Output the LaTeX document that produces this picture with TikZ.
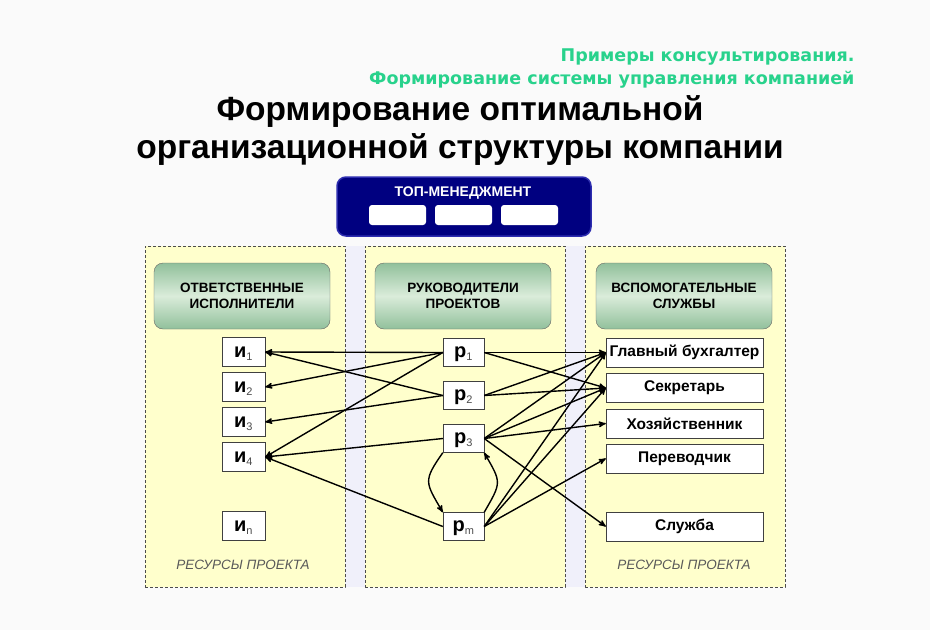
\documentclass[tikz,border=0pt]{standalone}
\usepackage{fontspec}
\setmainfont{Liberation Sans}
\newfontfamily\widefont{DejaVu Sans}
\usetikzlibrary{shapes,arrows,positioning,calc,fit}
\definecolor{navy}{RGB}{0,0,128}
\definecolor{navyrim}{RGB}{45,45,175}
\definecolor{mint}{RGB}{40,210,140}
\definecolor{paleyellow}{RGB}{255,255,204}
\definecolor{lavender}{RGB}{240,240,250}
\definecolor{headgreen}{RGB}{145,192,155}
\definecolor{headlight}{RGB}{218,236,218}
\tikzstyle{column} = [rectangle, draw=black!70, dash pattern=on 3pt off 2pt, fill=paleyellow, minimum width=200pt, minimum height=341pt, inner sep=0]
\tikzstyle{header} = [rectangle, draw=black!60, rounded corners=9pt, top color=headgreen, bottom color=headgreen, middle color=headlight, minimum width=176pt, minimum height=66pt, align=center, font=\fontsize{13.5}{16}\selectfont\bfseries]
\tikzstyle{worker} = [rectangle, draw=black!75, fill=white, minimum width=43pt, minimum height=29pt, inner sep=0, text height=11pt, text depth=0pt, font=\fontsize{20}{20}\selectfont\bfseries]
\tikzstyle{lead} = [rectangle, draw=black!75, fill=white, minimum width=41pt, minimum height=28pt, inner sep=0, text height=10pt, text depth=0pt, font=\fontsize{20}{20}\selectfont\bfseries]
\tikzstyle{service} = [rectangle, draw=black!75, fill=white, minimum width=157pt, minimum height=29pt, inner sep=0, font=\fontsize{15.5}{15.5}\selectfont\bfseries]
\tikzstyle{slot} = [rectangle, fill=white, rounded corners=3pt, minimum width=57pt, minimum height=20pt, inner sep=0]
\tikzstyle{resources} = [font=\fontsize{13.5}{13.5}\selectfont\itshape, text=black!65]
\tikzstyle{line} = [draw, line width=1.4pt, -stealth']
\newcommand{\lowidx}[1]{\textsubscript{\mdseries\fontsize{11}{11}\selectfont\color{black!70}#1}}

\begin{document}
\begin{tikzpicture}[x=1pt,y=1pt]
	\useasboundingbox (0,0) rectangle (930,-630);
	\fill[gray!4] (0,0) rectangle (930,-630);
	%Headings
	\node [anchor=base east, text=mint, font=\widefont\fontsize{17.5}{17.5}\selectfont\bfseries] (sub1) at (858,-61) {Примеры консультирования.};
	\node [anchor=base east, text=mint, font=\widefont\fontsize{17.5}{17.5}\selectfont\bfseries] (sub2) at (858,-84) {Формирование системы управления компанией};
	\node [anchor=base, font=\fontsize{33.5}{33.5}\selectfont\bfseries] (title1) at (460,-120) {Формирование оптимальной};
	\node [anchor=base, font=\fontsize{33.5}{33.5}\selectfont\bfseries] (title2) at (460,-158) {организационной структуры компании};

	%Top management
	\node [rectangle, draw=navyrim, line width=1.5pt, fill=navy, rounded corners=9pt, minimum width=254pt, minimum height=59pt] (top) at (464,-206.5) {};
	\node [text=white, font=\fontsize{14}{14}\selectfont\bfseries] (topname) at (463,-193) {ТОП-МЕНЕДЖМЕНТ};
	\node [slot] (slot2) at (463.5,-215) {};
	\node [slot, left of=slot2, node distance=66pt] (slot1) {};
	\node [slot, right of=slot2, node distance=66pt] (slot3) {};

	%Columns
	\fill[lavender] (145,-246) rectangle (785,-587);
	\node [column] (colL) at (245,-416.5) {};
	\node [column] (colM) at (465,-416.5) {};
	\node [column] (colR) at (685,-416.5) {};
	\node [header] (headL) at (242,-296) {ОТВЕТСТВЕННЫЕ\\ИСПОЛНИТЕЛИ};
	\node [header] (headM) at (463,-296) {РУКОВОДИТЕЛИ\\ПРОЕКТОВ};
	\node [header] (headR) at (684,-296) {ВСПОМОГАТЕЛЬНЫЕ\\СЛУЖБЫ};
	\node [resources] (resL) at (243,-565) {РЕСУРСЫ ПРОЕКТА};
	\node [resources] (resR) at (684,-565) {РЕСУРСЫ ПРОЕКТА};

	%Place nodes
	\node [worker] (i1) at (243.5,-352) {и\lowidx{1}};
	\node [worker, below of=i1, node distance=35pt] (i2) {и\lowidx{2}};
	\node [worker, below of=i2, node distance=35pt] (i3) {и\lowidx{3}};
	\node [worker, below of=i3, node distance=35pt] (i4) {и\lowidx{4}};
	\node [worker, below of=i4, node distance=69pt] (in) {и\lowidx{n}};
	\node [lead] (p1) at (463.5,-352.5) {р\lowidx{1}};
	\node [lead, below of=p1, node distance=43pt] (p2) {р\lowidx{2}};
	\node [lead, below of=p2, node distance=43pt] (p3) {р\lowidx{3}};
	\node [lead, below of=p3, node distance=88pt] (pm) {р\lowidx{m}};
	\node [service] (acc) at (684.5,-352.5) {Главный бухгалтер};
	\node [service, below of=acc, node distance=35.5pt] (sec) {Секретарь};
	\node [service, below of=sec, node distance=35.5pt] (eco) {Хозяйственник};
	\node [service, below of=eco, node distance=35pt] (trans) {Переводчик};
	\node [service, below of=trans, node distance=68pt] (serv) {Служба};

	\path [line] (p1.west) -- (i1.east);
	\path [line] (p1.west) -- (i2.east);
	\path [line] (p1.west) -- (i4.east);
	\path [line] (p2.west) -- (i1.east);
	\path [line] (p2.west) -- (i3.east);
	\path [line] (p3.west) -- (i4.east);
	\path [line] (pm.west) -- (i4.east);

	\path [line] (p1.east) -- (acc.west);
	\path [line] (p1.east) -- (sec.west);
	\path [line] (p2.east) -- (acc.west);
	\path [line] (p2.east) -- (sec.west);
	\path [line] (p3.east) -- (acc.west);
	\path [line] (p3.east) -- (sec.west);
	\path [line] (p3.east) -- (eco.west);
	\path [line] (p3.east) -- (serv.west);
	\path [line] (pm.east) -- (acc.west);
	\path [line] (pm.east) -- (sec.west);
	\path [line] (pm.east) -- (trans.west);

	\path [line] (p3.south west) to[out=235, in=120, looseness=1.5] (pm.north west);
	\path [line] (pm.north east) to[out=60, in=-60, looseness=1.5] (p3.south east);
\end{tikzpicture}
\end{document}
